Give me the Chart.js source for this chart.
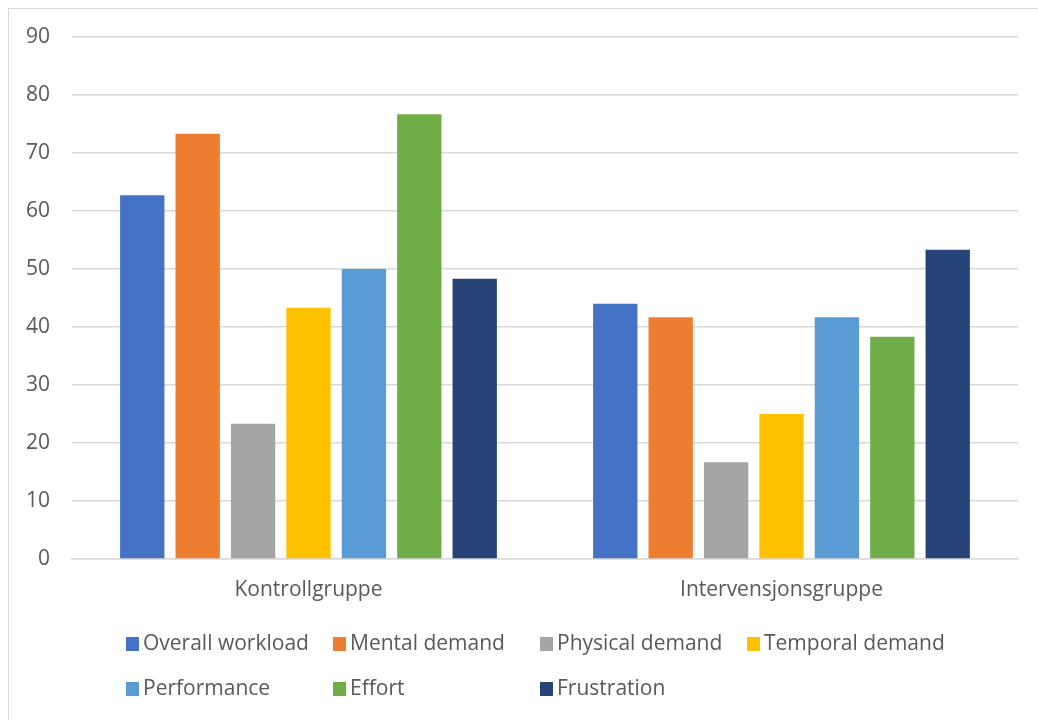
<!DOCTYPE html>
<html>
<head>
<meta charset="utf-8">
<script src="https://cdn.jsdelivr.net/npm/chart.js@4/dist/chart.umd.min.js"></script>
<style>
  html, body { margin: 0; padding: 0; background: #fff; }
  #wrap { position: relative; width: 1038px; height: 720px; overflow: hidden; }
  #frame { position: absolute; left: 8px; top: 8px; width: 1060px; height: 740px;
           border: 1px solid #d9d9d9; box-sizing: border-box; }
  canvas { position: absolute; left: 0; top: 0; }
</style>
</head>
<body>
<div id="wrap">
  <div id="frame"></div>
  <canvas id="c" width="1038" height="720"></canvas>
</div>
<script>
// Groups on the x axis
const groups = ['Kontrollgruppe', 'Intervensjonsgruppe'];

// NASA-TLX dimensions (one bar series each)
const seriesNames = ['Overall workload', 'Mental demand', 'Physical demand', 'Temporal demand',
                     'Performance', 'Effort', 'Frustration'];

// Mean scores per dimension: [Kontrollgruppe, Intervensjonsgruppe]
const overallWorkload = [62.7, 44.0];
const mentalDemand    = [73.3, 41.7];
const physicalDemand  = [23.3, 16.7];
const temporalDemand  = [43.3, 25.0];
const performance     = [50.0, 41.7];
const effort          = [76.7, 38.3];
const frustration     = [48.3, 53.3];

// Y axis tick values
const yTicks = [0, 10, 20, 30, 40, 50, 60, 70, 80, 90];

const seriesValues = [overallWorkload, mentalDemand, physicalDemand, temporalDemand,
                      performance, effort, frustration];
const seriesColors = ['#4472C4', '#ED7D31', '#A5A5A5', '#FFC000', '#5B9BD5', '#70AD47', '#264478'];

const FONT = '"Open Sans", "Noto Sans", sans-serif';
const TEXT = '#595959';
const GRID = '#d9d9d9';

// Legend laid out as a fixed grid of four columns under the plot
const gridLegend = {
  id: 'gridLegend',
  afterDraw(chart) {
    const ctx = chart.ctx;
    const colW = 207, rowH = 45, x0 = 126, y0 = 644;
    ctx.save();
    ctx.font = '21px ' + FONT;
    ctx.textBaseline = 'middle';
    ctx.textAlign = 'left';
    chart.data.datasets.forEach((ds, i) => {
      const col = i % 4, row = Math.floor(i / 4);
      const x = x0 + col * colW, y = y0 + row * rowH;
      ctx.fillStyle = ds.backgroundColor;
      ctx.fillRect(x, y - 7, 13, 14);
      ctx.fillStyle = TEXT;
      ctx.fillText(ds.label, x + 17, y);
    });
    ctx.restore();
  }
};

new Chart(document.getElementById('c'), {
  type: 'bar',
  data: {
    labels: groups,
    datasets: seriesNames.map((name, i) => ({
      label: name,
      data: seriesValues[i],
      backgroundColor: seriesColors[i],
      borderWidth: 0,
      categoryPercentage: 0.82,
      barPercentage: 0.8
    }))
  },
  options: {
    responsive: false,
    animation: false,
    devicePixelRatio: 1,
    layout: { padding: { left: 0, right: 20, top: 37, bottom: 111 } },
    plugins: {
      legend: { display: false },
      tooltip: { enabled: false }
    },
    scales: {
      x: {
        grid: { display: false, drawTicks: false },
        border: { display: true, color: GRID, width: 1.5 },
        ticks: { color: TEXT, font: { family: FONT, size: 21 }, padding: 18 },
        afterFit(scale) { scale.height = 50; }
      },
      y: {
        min: 0,
        max: 90,
        afterBuildTicks(scale) { scale.ticks = yTicks.map(v => ({ value: v })); },
        grid: { color: GRID, lineWidth: 1.5, drawTicks: false },
        border: { display: false },
        ticks: { color: TEXT, font: { family: FONT, size: 21 }, padding: 22 },
        afterFit(scale) { scale.width = 72; }
      }
    }
  },
  plugins: [gridLegend]
});
</script>
</body>
</html>
